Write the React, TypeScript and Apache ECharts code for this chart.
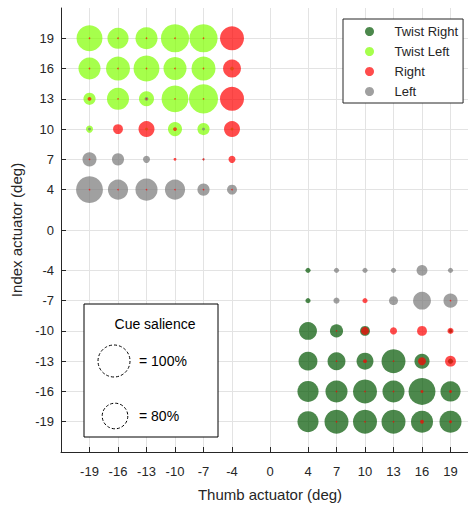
import React, { useEffect, useRef } from "react";
import * as echarts from "echarts";

// Tick values
const xTicks = [-19, -16, -13, -10, -7, -4, 0, 4, 7, 10, 13, 16, 19];
const yTicks = [-19, -16, -13, -10, -7, -4, 0, 4, 7, 10, 13, 16, 19];

// Quadrant grids
const tlX = [-19, -16, -13, -10, -7, -4];
const tlY = [19, 16, 13, 10, 7, 4];
const brX = [4, 7, 10, 13, 16, 19];
const brY = [-4, -7, -10, -13, -16, -19];

// Salience (%) per response, rows follow tlY / brY, columns follow tlX / brX
const twistRightTL = [
  [0, 0, 0, 0, 0, 0],
  [0, 0, 0, 0, 0, 0],
  [0, 0, 0, 0, 0, 0],
  [0, 0, 0, 0, 0, 0],
  [0, 0, 0, 0, 0, 0],
  [0, 0, 0, 0, 0, 0],
];
const twistRightBR = [
  [16, 0, 0, 0, 0, 0],
  [16, 0, 0, 0, 0, 0],
  [56, 41, 31, 0, 0, 12],
  [59, 56, 53, 75, 47, 16],
  [66, 69, 75, 69, 84, 63],
  [66, 75, 75, 75, 69, 69],
];
const twistLeftTL = [
  [81, 66, 69, 88, 88, 0],
  [69, 75, 81, 72, 75, 12],
  [38, 69, 47, 84, 91, 0],
  [22, 0, 9, 44, 38, 9],
  [0, 0, 0, 0, 0, 0],
  [0, 0, 0, 0, 0, 0],
];
const twistLeftBR = [
  [0, 0, 0, 0, 0, 0],
  [0, 0, 0, 0, 0, 0],
  [0, 0, 0, 0, 0, 0],
  [0, 0, 0, 0, 0, 0],
  [0, 0, 0, 0, 0, 0],
  [0, 0, 0, 0, 0, 0],
];
const rightTL = [
  [5, 5, 5, 5, 5, 75],
  [5, 5, 5, 5, 5, 56],
  [12, 5, 5, 5, 5, 75],
  [0, 31, 50, 12, 0, 50],
  [5, 0, 0, 9, 6, 22],
  [5, 5, 5, 5, 5, 5],
];
const rightBR = [
  [0, 0, 0, 0, 0, 0],
  [0, 0, 16, 0, 0, 5],
  [0, 5, 25, 22, 31, 19],
  [0, 5, 12, 5, 25, 34],
  [0, 5, 5, 5, 9, 9],
  [0, 5, 5, 5, 12, 9],
];
const leftTL = [
  [0, 0, 0, 0, 0, 0],
  [0, 0, 0, 0, 0, 0],
  [0, 0, 12, 0, 0, 0],
  [9, 0, 0, 0, 9, 0],
  [44, 38, 22, 0, 6, 0],
  [84, 63, 69, 63, 38, 31],
];
const leftBR = [
  [0, 16, 16, 16, 34, 16],
  [0, 19, 0, 28, 56, 44],
  [0, 0, 0, 0, 0, 0],
  [0, 0, 0, 0, 0, 0],
  [0, 0, 0, 0, 0, 0],
  [0, 0, 0, 0, 0, 0],
];

const seriesNames = ["Twist Right", "Twist Left", "Right", "Left"];
const seriesColors: Record<string, string> = {
  "Twist Right": "#005500",
  "Twist Left": "#80ff00",
  Right: "#ff0000",
  Left: "#777777",
};
const salienceLegend = [100, 80];

const PX_PER_PCT = 0.32; // diameter in px per percent

function build(tl: number[][], br: number[][]) {
  const out: number[][] = [];
  tl.forEach((row, i) =>
    row.forEach((v, j) => {
      if (v > 0) out.push([tlX[j], tlY[i], v]);
    })
  );
  br.forEach((row, i) =>
    row.forEach((v, j) => {
      if (v > 0) out.push([brX[j], brY[i], v]);
    })
  );
  return out;
}

const FONT = "'Liberation Sans', Arial, Helvetica, sans-serif";
const TXT = "#262626";

export default function App() {
  const ref = useRef<HTMLDivElement>(null);
  useEffect(() => {
    if (!ref.current) return;
    const chart = echarts.init(ref.current, undefined, { renderer: "svg" });
    const dataMap: Record<string, number[][]> = {
      "Twist Right": build(twistRightTL, twistRightBR),
      "Twist Left": build(twistLeftTL, twistLeftBR),
      Left: build(leftTL, leftBR),
      Right: build(rightTL, rightBR),
    };
    const drawOrder = ["Twist Right", "Twist Left", "Left", "Right"];
    const r100 = (salienceLegend[0] * PX_PER_PCT) / 2;
    const r80 = (salienceLegend[1] * PX_PER_PCT) / 2;
    const axisCommon = {
      type: "value" as const,
      min: -22,
      max: 22,
      nameLocation: "middle" as const,
      nameTextStyle: { fontFamily: FONT, fontSize: 15, color: TXT },
      axisLine: { show: true, onZero: false, lineStyle: { color: TXT, width: 1 } },
      splitLine: { show: true, lineStyle: { color: "#e3e3e3", width: 1 } },
    };
    const Z = 100;
    chart.setOption({
      animation: false,
      textStyle: { fontFamily: FONT },
      grid: { left: 61, top: 8, width: 418, height: 444, outerBoundsMode: "none", containLabel: false },
      xAxis: {
        ...axisCommon,
        name: "Thumb actuator (deg)",
        nameGap: 35,
        axisTick: { show: true, inside: true, length: 5, customValues: xTicks, lineStyle: { color: TXT } },
        axisLabel: { customValues: xTicks, fontSize: 13, color: TXT, margin: 13, fontFamily: FONT },
      },
      yAxis: {
        ...axisCommon,
        name: "Index actuator (deg)",
        nameGap: 34,
        axisTick: { show: true, inside: true, length: 5, customValues: yTicks, lineStyle: { color: TXT } },
        axisLabel: { customValues: yTicks, fontSize: 13, color: TXT, margin: 7, fontFamily: FONT },
      },
      legend: {
        data: seriesNames,
        orient: "vertical",
        left: 343,
        top: 19,
        icon: "circle",
        itemWidth: 40,
        itemHeight: 9,
        itemGap: 5,
        padding: [5, 5, 4, 22],
        borderColor: TXT,
        borderWidth: 1,
        backgroundColor: "#fff",
        textStyle: { fontFamily: FONT, fontSize: 13, color: TXT, lineHeight: 15 },
      },
      series: drawOrder.map((name) => ({
        name,
        type: "scatter",
        data: dataMap[name],
        symbol: "circle",
        symbolSize: (v: number[]) => v[2] * PX_PER_PCT,
        itemStyle: { color: seriesColors[name], opacity: 0.7 },
        emphasis: { disabled: true },
      })),
      graphic: [
        {
          type: "rect",
          z: Z,
          shape: { x: 84, y: 304, width: 134, height: 133 },
          style: { fill: "#fff", stroke: "#000", lineWidth: 1 },
        },
        {
          type: "text",
          z: Z + 1,
          x: 155,
          y: 324,
          style: {
            text: "Cue salience",
            font: `14px ${FONT}`,
            fill: "#000",
            textAlign: "center",
            textVerticalAlign: "middle",
          },
        },
        {
          type: "circle",
          z: Z + 1,
          shape: { cx: 114, cy: 361, r: r100 },
          style: { fill: "none", stroke: "#000", lineWidth: 1, lineDash: [3, 2] },
        },
        {
          type: "text",
          z: Z + 1,
          x: 139,
          y: 361,
          style: {
            text: `= ${salienceLegend[0]}%`,
            font: `14px ${FONT}`,
            fill: "#000",
            textVerticalAlign: "middle",
          },
        },
        {
          type: "circle",
          z: Z + 1,
          shape: { cx: 115, cy: 416, r: r80 },
          style: { fill: "none", stroke: "#000", lineWidth: 1, lineDash: [3, 2] },
        },
        {
          type: "text",
          z: Z + 1,
          x: 139,
          y: 416,
          style: {
            text: `= ${salienceLegend[1]}%`,
            font: `14px ${FONT}`,
            fill: "#000",
            textVerticalAlign: "middle",
          },
        },
      ],
    });
    return () => chart.dispose();
  }, []);
  return (
    <div
      ref={ref}
      style={{ position: "fixed", left: 0, top: 0, width: 468, height: 507, background: "#fff" }}
    />
  );
}
